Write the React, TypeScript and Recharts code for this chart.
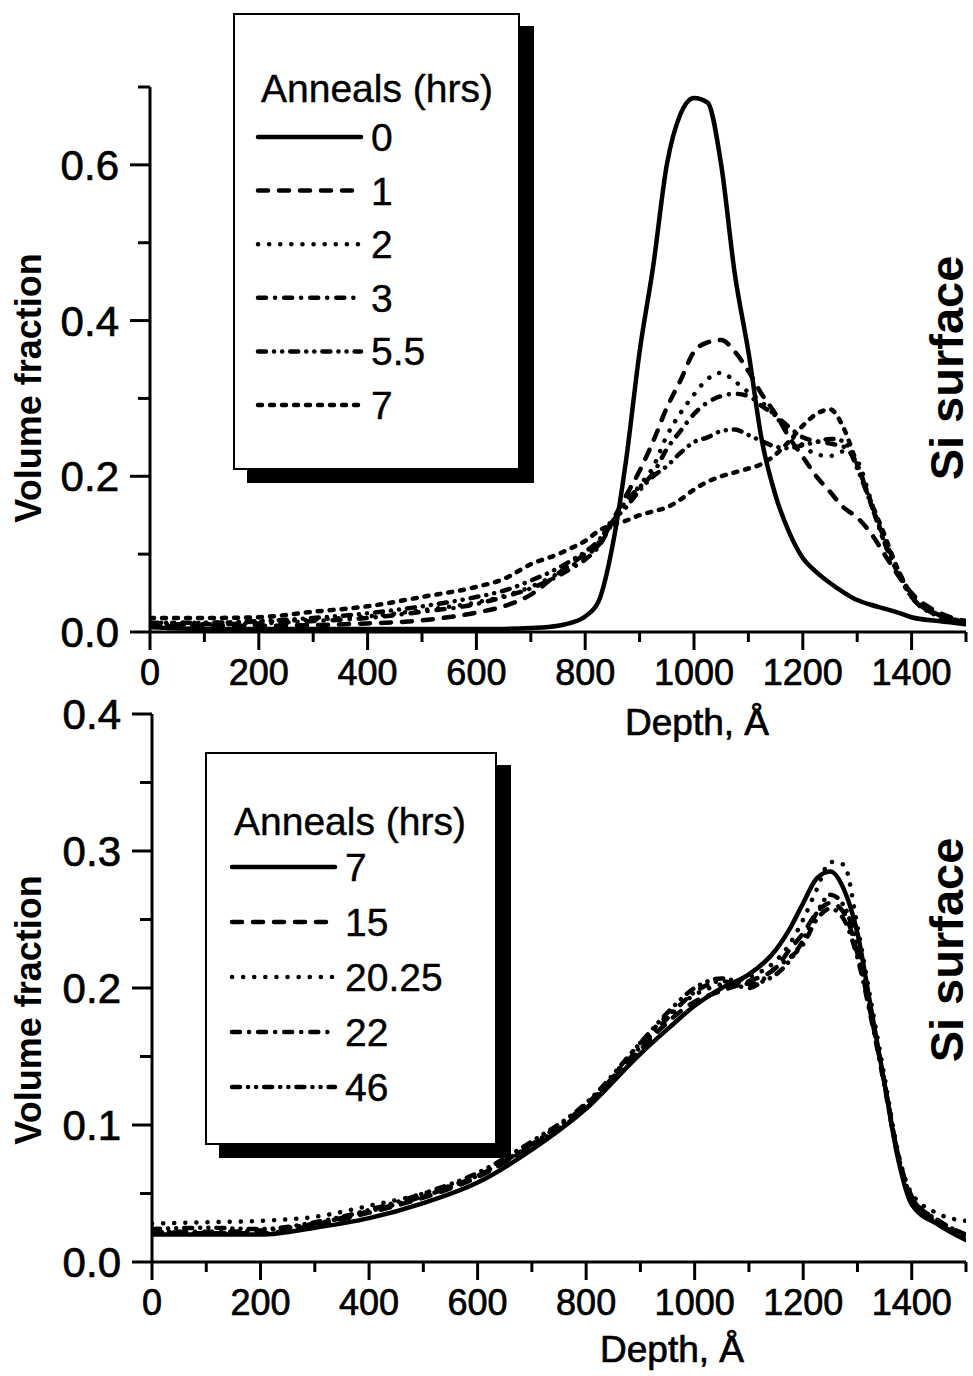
import React from 'react';
import { LineChart, Line, XAxis, YAxis, Legend, Label } from 'recharts';

// depth grid (Å) and volume fractions, upper panel
const depthTop = [0, 100, 200, 300, 400, 500, 600, 650, 700, 750, 775, 800, 825, 850, 875, 900, 925, 950, 975, 1000,
  1025, 1050, 1075, 1100, 1125, 1150, 1175, 1200, 1225, 1250, 1275, 1300, 1325, 1350, 1375, 1400, 1450, 1500];
const anneal0 = [0.006, 0.004, 0.004, 0.004, 0.004, 0.004, 0.004, 0.004, 0.005, 0.008, 0.012, 0.02, 0.04, 0.11, 0.22, 0.36, 0.47, 0.6, 0.665, 0.686,
  0.68, 0.6, 0.46, 0.36, 0.245, 0.175, 0.128, 0.095, 0.077, 0.063, 0.051, 0.041, 0.035, 0.03, 0.025, 0.019, 0.014, 0.01];
const anneal1 = [0.008, 0.008, 0.008, 0.009, 0.011, 0.015, 0.025, 0.033, 0.048, 0.075, 0.088, 0.1, 0.112, 0.143, 0.175, 0.207, 0.245, 0.288, 0.323, 0.36,
  0.372, 0.375, 0.36, 0.335, 0.305, 0.28, 0.25, 0.225, 0.2, 0.18, 0.16, 0.147, 0.127, 0.1, 0.073, 0.05, 0.025, 0.014];
const anneal2 = [0.012, 0.012, 0.013, 0.016, 0.02, 0.028, 0.038, 0.046, 0.058, 0.075, 0.085, 0.095, 0.115, 0.145, 0.165, 0.188, 0.212, 0.252, 0.281, 0.305,
  0.325, 0.333, 0.322, 0.308, 0.295, 0.277, 0.255, 0.24, 0.228, 0.226, 0.232, 0.22, 0.17, 0.115, 0.075, 0.045, 0.022, 0.013];
const anneal3 = [0.01, 0.01, 0.011, 0.014, 0.018, 0.026, 0.036, 0.045, 0.056, 0.072, 0.082, 0.093, 0.11, 0.14, 0.168, 0.186, 0.204, 0.235, 0.258, 0.28,
  0.295, 0.303, 0.306, 0.303, 0.29, 0.278, 0.263, 0.25, 0.245, 0.242, 0.238, 0.215, 0.165, 0.12, 0.08, 0.045, 0.022, 0.013];
const anneal55 = [0.012, 0.012, 0.014, 0.018, 0.024, 0.033, 0.045, 0.053, 0.066, 0.082, 0.092, 0.103, 0.118, 0.142, 0.16, 0.182, 0.2, 0.213, 0.23, 0.244,
  0.25, 0.258, 0.26, 0.253, 0.245, 0.238, 0.236, 0.24, 0.244, 0.248, 0.245, 0.21, 0.165, 0.115, 0.075, 0.045, 0.02, 0.012];
const anneal7 = [0.018, 0.018, 0.019, 0.026, 0.033, 0.045, 0.058, 0.068, 0.087, 0.1, 0.108, 0.117, 0.13, 0.138, 0.143, 0.15, 0.155, 0.16, 0.17, 0.183,
  0.193, 0.2, 0.205, 0.21, 0.216, 0.228, 0.245, 0.265, 0.28, 0.286, 0.262, 0.215, 0.168, 0.125, 0.08, 0.048, 0.021, 0.014];

// lower panel
const depthBottom = [0, 100, 200, 300, 400, 500, 600, 700, 800, 900, 950, 1000, 1050, 1100, 1150,
  1175, 1200, 1225, 1250, 1275, 1300, 1325, 1350, 1375, 1400, 1450, 1500];
const longAnneal7 = [0.02, 0.02, 0.02, 0.025, 0.032, 0.043, 0.058, 0.082, 0.112, 0.152, 0.17, 0.187, 0.2, 0.21, 0.228,
  0.243, 0.262, 0.28, 0.285, 0.272, 0.24, 0.185, 0.13, 0.075, 0.042, 0.027, 0.016];
const longAnneal15 = [0.022, 0.021, 0.021, 0.027, 0.036, 0.047, 0.062, 0.085, 0.112, 0.155, 0.175, 0.19, 0.198, 0.205, 0.215,
  0.228, 0.24, 0.255, 0.262, 0.255, 0.225, 0.18, 0.13, 0.078, 0.048, 0.03, 0.02];
const longAnneal2025 = [0.028, 0.029, 0.03, 0.033, 0.041, 0.05, 0.063, 0.085, 0.113, 0.16, 0.18, 0.195, 0.203, 0.208, 0.22,
  0.232, 0.25, 0.272, 0.292, 0.29, 0.245, 0.19, 0.135, 0.08, 0.05, 0.035, 0.03];
const longAnneal22 = [0.022, 0.022, 0.023, 0.028, 0.037, 0.048, 0.063, 0.086, 0.115, 0.157, 0.178, 0.197, 0.205, 0.2, 0.215,
  0.222, 0.232, 0.25, 0.258, 0.25, 0.222, 0.178, 0.128, 0.076, 0.045, 0.028, 0.018];
const longAnneal46 = [0.024, 0.025, 0.024, 0.029, 0.038, 0.05, 0.065, 0.088, 0.116, 0.16, 0.182, 0.2, 0.207, 0.203, 0.21,
  0.22, 0.235, 0.255, 0.268, 0.26, 0.23, 0.182, 0.13, 0.078, 0.047, 0.03, 0.02];

const topNames = ['0', '1', '2', '3', '5.5', '7'];
const bottomNames = ['7', '15', '20.25', '22', '46'];

const depthTicks = [0, 100, 200, 300, 400, 500, 600, 700, 800, 900, 1000, 1100, 1200, 1300, 1400, 1500];
const topYTicks = [0, 0.1, 0.2, 0.3, 0.4, 0.5, 0.6, 0.7];
const bottomYTicks = [0, 0.05, 0.1, 0.15, 0.2, 0.25, 0.3, 0.35, 0.4];

const topRows = depthTop.map((d, i) => ({
  depth: d, s0: anneal0[i], s1: anneal1[i], s2: anneal2[i], s3: anneal3[i], s4: anneal55[i], s5: anneal7[i],
}));
const bottomRows = depthBottom.map((d, i) => ({
  depth: d, s0: longAnneal7[i], s1: longAnneal15[i], s2: longAnneal2025[i], s3: longAnneal22[i], s4: longAnneal46[i],
}));

const FONT = '"Liberation Sans", Arial, Helvetica, sans-serif';
const topDashes = [undefined, '10 11', '0.1 11', '8 9 0.1 9', '8 8 0.1 8 0.1 8', '4 8'];
const bottomDashes = [undefined, '10 11', '0.1 11', '8 9 0.1 9', '8 8 0.1 8 0.1 8'];
const ink = { fill: '#000', stroke: '#000', strokeWidth: 0.7, fontFamily: FONT };

const XTick = (props: any) => {
  const { x, y, payload } = props;
  const major = payload.value % 200 === 0;
  return (
    <g>
      <line x1={x} x2={x} y1={y} y2={y + (major ? 18 : 10)} stroke="#000" strokeWidth={3} />
      {major && (
        <text x={x} y={y + 53} textAnchor="middle" fontSize={36} {...ink}>
          {payload.value}
        </text>
      )}
    </g>
  );
};

const makeYTick = (step: number) => (props: any) => {
  const { x, y, payload } = props;
  const r = payload.value / step;
  const major = Math.abs(r - Math.round(r)) < 1e-6;
  return (
    <g>
      <line x1={x} x2={x - (major ? 20 : 12)} y1={y} y2={y} stroke="#000" strokeWidth={3} />
      {major && (
        <text x={x - 31} y={y} dy="0.36em" textAnchor="end" fontSize={42} {...ink}>
          {payload.value.toFixed(1)}
        </text>
      )}
    </g>
  );
};

const LegendBox = (p: any) => (
  <div
    style={{
      width: p.width, height: p.height, border: '2px solid #000', boxSizing: 'border-box',
      boxShadow: '14px 13px 0 #000', background: '#fff',
    }}
  >
    <svg width={p.width - 4} height={p.height - 4} style={{ display: 'block' }}>
      <text x={p.titleX} y={p.titleY} fontSize={39} {...ink} strokeWidth={0.4}>Anneals (hrs)</text>
      {p.names.map((n: string, i: number) => {
        const cy = p.rowTop + i * p.rowGap;
        return (
          <g key={n}>
            <line x1={p.lineX} x2={p.lineX + 103} y1={cy} y2={cy} stroke="#000" strokeWidth={4.5}
              strokeDasharray={p.dashes[i]} strokeLinecap="round" />
            <text x={p.lineX + 113} y={cy + 14} fontSize={39} {...ink} strokeWidth={0.4}>{n}</text>
          </g>
        );
      })}
    </svg>
  </div>
);

const Panel = (p: any) => (
  <div style={{ position: 'absolute', left: 0, top: p.top }}>
    <LineChart width={990} height={p.height} data={p.rows} margin={p.margin}>
      <XAxis dataKey="depth" type="number" domain={[0, 1500]} ticks={depthTicks} interval={0} allowDataOverflow
        height={p.xHeight} tickSize={0} tickMargin={0} tickLine={false} tick={<XTick />}
        axisLine={{ stroke: '#000', strokeWidth: 3 }}>
        <Label content={() => (
          <text x={p.depthX} y={p.depthY} textAnchor="middle" fontSize={37} {...ink}>Depth, Å</text>
        )} />
      </XAxis>
      <YAxis type="number" domain={p.yDomain} ticks={p.yTicks} interval={0} allowDataOverflow width={120}
        tickSize={0} tickMargin={0} tickLine={false} tick={makeYTick(p.yStep)}
        axisLine={{ stroke: '#000', strokeWidth: 3 }}>
        <Label content={() => (
          <text transform={`translate(28,${p.volY}) rotate(-90)`} textAnchor="middle" dominantBaseline="central"
            fontSize={36} fontWeight="bold" fill="#000" fontFamily={FONT}>Volume fraction</text>
        )} />
        <Label content={() => (
          <text transform={`translate(946,${p.siY}) rotate(-90)`} textAnchor="middle" dominantBaseline="central"
            fontSize={47} fontWeight="bold" fill="#000" fontFamily={FONT}>Si surface</text>
        )} />
      </YAxis>
      <Legend layout="vertical" align="center" verticalAlign="middle"
        wrapperStyle={{ left: p.legend.left, top: p.legend.top, width: p.legend.width, height: p.legend.height }}
        content={() => <LegendBox {...p.legend} names={p.names} dashes={p.dashes} />} />
      {p.names.map((n: string, i: number) => (
        <Line key={n} name={n} dataKey={`s${i}`} type="monotone" stroke="#000" strokeWidth={4.5}
          strokeDasharray={p.dashes[i]} strokeLinecap="round" strokeLinejoin="round"
          dot={false} activeDot={false} isAnimationActive={false} />
      ))}
    </LineChart>
  </div>
);

export default function App() {
  return (
    <div style={{ position: 'absolute', left: 0, top: 0, width: 973, height: 1376, overflow: 'hidden', background: '#fff' }}>
      <Panel top={0} height={742} rows={topRows} margin={{ top: 87, right: 24, bottom: 0, left: 30 }} xHeight={110}
        yDomain={[0, 0.7]} yTicks={topYTicks} yStep={0.2} names={topNames} dashes={topDashes}
        depthX={697} depthY={735} volY={388} siY={368}
        legend={{ left: 233, top: 13, width: 287, height: 457, titleX: 26, titleY: 87, rowTop: 122, rowGap: 53.6, lineX: 23 }} />
      <Panel top={690} height={686} rows={bottomRows} margin={{ top: 24, right: 24, bottom: 0, left: 32 }} xHeight={114}
        yDomain={[0, 0.4]} yTicks={bottomYTicks} yStep={0.1} names={bottomNames} dashes={bottomDashes}
        depthX={672} depthY={672} volY={320} siY={260}
        legend={{ left: 205, top: 62, width: 292, height: 393, titleX: 27, titleY: 81, rowTop: 113, rowGap: 55, lineX: 25 }} />
    </div>
  );
}
